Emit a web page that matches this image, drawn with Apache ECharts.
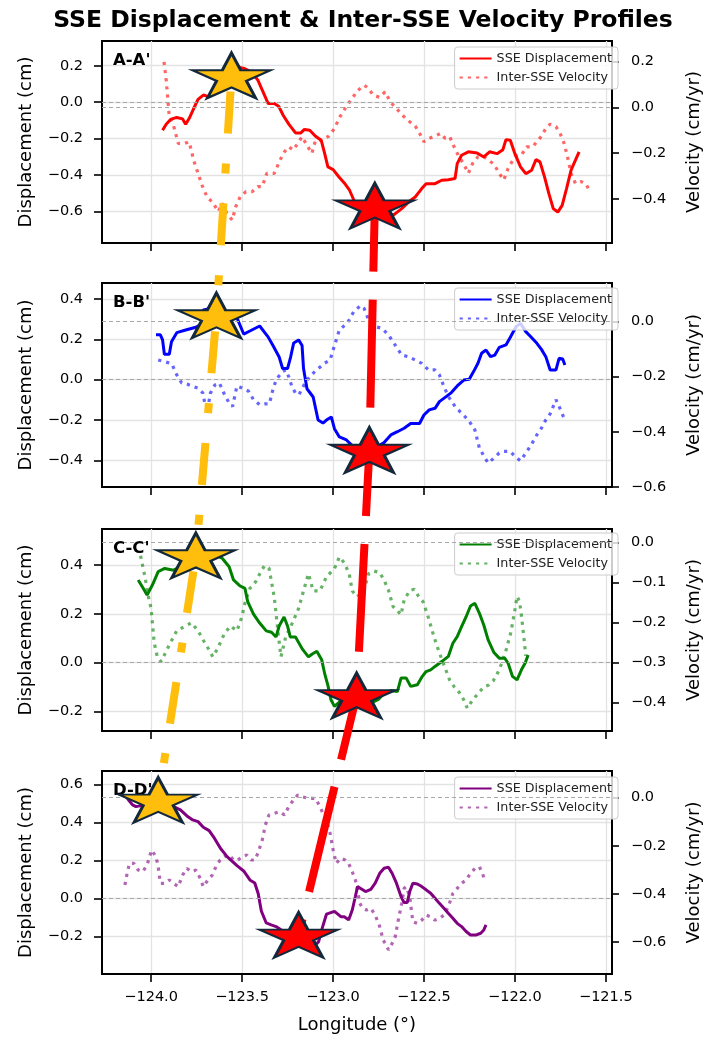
<!DOCTYPE html>
<html><head><meta charset="utf-8">
<script src="https://cdn.jsdelivr.net/npm/echarts@6/dist/echarts.min.js"></script>
<style>html,body{margin:0;padding:0;background:#fff}#c{width:711px;height:1038px}</style>
</head><body><div id="c"></div>
<script>
// ---------------- DATA ----------------
const chartTitle = 'SSE Displacement & Inter-SSE Velocity Profiles';
const panelLabels = ["A-A'", "B-B'", "C-C'", "D-D'"];
const panelKeys = ['A', 'B', 'C', 'D'];
const dispName = 'SSE Displacement';
const velName = 'Inter-SSE Velocity';
const xLabel = 'Longitude (°)';
const leftLabel = 'Displacement (cm)';
const rightLabel = 'Velocity (cm/yr)';

const xTicks = [-124.0, -123.5, -123.0, -122.5, -122.0, -121.5];
const xRange = [-124.27, -121.466];

const leftRangeA = [-0.774, 0.336], rightRangeA = [-0.592, 0.290];
const leftRangeB = [-0.532, 0.479], rightRangeB = [-0.600, 0.139];
const leftRangeC = [-0.281, 0.548], rightRangeC = [-0.472, 0.034];
const leftRangeD = [-0.396, 0.670], rightRangeD = [-0.733, 0.111];

const leftTicksA = [-0.6, -0.4, -0.2, 0.0, 0.2];
const leftTicksB = [-0.4, -0.2, 0.0, 0.2, 0.4];
const leftTicksC = [-0.2, 0.0, 0.2, 0.4];
const leftTicksD = [-0.2, 0.0, 0.2, 0.4, 0.6];
const rightTicksA = [-0.4, -0.2, 0.0, 0.2];
const rightTicksB = [-0.6, -0.4, -0.2, 0.0];
const rightTicksC = [-0.4, -0.3, -0.2, -0.1, 0.0];
const rightTicksD = [-0.6, -0.4, -0.2, 0.0];

const dispA = [[-123.937,-0.154],[-123.917,-0.121],[-123.893,-0.095],[-123.859,-0.084],[-123.827,-0.092],[-123.810,-0.121],[-123.791,-0.090],[-123.766,-0.035],[-123.742,0.015],[-123.713,0.039],[-123.681,0.029],[-123.657,0.057],[-123.620,0.112],[-123.584,0.167],[-123.535,0.195],[-123.486,0.185],[-123.450,0.167],[-123.413,0.121],[-123.381,0.048],[-123.357,-0.007],[-123.323,-0.007],[-123.299,-0.022],[-123.274,-0.072],[-123.243,-0.121],[-123.206,-0.169],[-123.177,-0.169],[-123.157,-0.150],[-123.128,-0.154],[-123.096,-0.187],[-123.065,-0.209],[-123.048,-0.273],[-123.028,-0.356],[-122.999,-0.371],[-122.967,-0.411],[-122.938,-0.444],[-122.909,-0.484],[-122.885,-0.539],[-122.853,-0.573],[-122.792,-0.585],[-122.719,-0.595],[-122.670,-0.622],[-122.622,-0.585],[-122.585,-0.549],[-122.548,-0.521],[-122.512,-0.475],[-122.488,-0.448],[-122.439,-0.448],[-122.402,-0.429],[-122.366,-0.426],[-122.329,-0.420],[-122.317,-0.338],[-122.293,-0.292],[-122.256,-0.273],[-122.208,-0.279],[-122.171,-0.301],[-122.139,-0.273],[-122.098,-0.283],[-122.066,-0.261],[-122.049,-0.206],[-122.025,-0.209],[-122.000,-0.283],[-121.969,-0.356],[-121.940,-0.393],[-121.908,-0.374],[-121.884,-0.316],[-121.862,-0.328],[-121.837,-0.411],[-121.813,-0.503],[-121.789,-0.585],[-121.764,-0.604],[-121.740,-0.567],[-121.716,-0.475],[-121.691,-0.374],[-121.667,-0.319],[-121.647,-0.273]];
const velA = [[-123.929,0.199],[-123.917,0.119],[-123.900,-0.041],[-123.876,-0.081],[-123.851,-0.157],[-123.815,-0.157],[-123.791,-0.150],[-123.766,-0.230],[-123.742,-0.288],[-123.717,-0.346],[-123.693,-0.390],[-123.657,-0.419],[-123.632,-0.455],[-123.608,-0.419],[-123.584,-0.463],[-123.554,-0.492],[-123.535,-0.434],[-123.510,-0.390],[-123.479,-0.368],[-123.445,-0.368],[-123.413,-0.346],[-123.389,-0.346],[-123.364,-0.288],[-123.323,-0.288],[-123.291,-0.230],[-123.267,-0.194],[-123.243,-0.172],[-123.218,-0.186],[-123.194,-0.157],[-123.170,-0.128],[-123.138,-0.172],[-123.116,-0.201],[-123.096,-0.143],[-123.060,-0.143],[-123.023,-0.125],[-122.992,-0.092],[-122.962,-0.041],[-122.933,-0.004],[-122.902,0.032],[-122.865,0.073],[-122.829,0.097],[-122.804,0.083],[-122.780,0.054],[-122.743,0.044],[-122.714,0.068],[-122.690,0.032],[-122.665,0.006],[-122.639,-0.015],[-122.609,-0.041],[-122.578,-0.063],[-122.548,-0.081],[-122.524,-0.113],[-122.500,-0.150],[-122.471,-0.135],[-122.439,-0.125],[-122.407,-0.113],[-122.383,-0.135],[-122.358,-0.128],[-122.334,-0.172],[-122.310,-0.212],[-122.281,-0.247],[-122.256,-0.288],[-122.232,-0.244],[-122.203,-0.215],[-122.171,-0.215],[-122.142,-0.233],[-122.115,-0.247],[-122.086,-0.288],[-122.061,-0.317],[-122.037,-0.266],[-122.000,-0.215],[-121.964,-0.208],[-121.935,-0.172],[-121.903,-0.172],[-121.879,-0.150],[-121.854,-0.125],[-121.830,-0.092],[-121.806,-0.073],[-121.774,-0.084],[-121.750,-0.116],[-121.728,-0.160],[-121.711,-0.215],[-121.691,-0.288],[-121.667,-0.332],[-121.635,-0.324],[-121.611,-0.332],[-121.586,-0.368]];

const dispB = [[-123.973,0.222],[-123.949,0.222],[-123.937,0.197],[-123.927,0.126],[-123.900,0.126],[-123.888,0.188],[-123.859,0.233],[-123.810,0.246],[-123.754,0.260],[-123.722,0.276],[-123.713,0.345],[-123.679,0.352],[-123.657,0.329],[-123.635,0.281],[-123.591,0.326],[-123.537,0.326],[-123.491,0.226],[-123.457,0.241],[-123.403,0.266],[-123.357,0.212],[-123.330,0.169],[-123.296,0.112],[-123.277,0.055],[-123.250,0.055],[-123.233,0.112],[-123.216,0.182],[-123.189,0.197],[-123.170,0.169],[-123.162,0.055],[-123.143,-0.045],[-123.109,-0.086],[-123.082,-0.200],[-123.055,-0.215],[-123.036,-0.200],[-123.009,-0.185],[-122.992,-0.243],[-122.965,-0.284],[-122.926,-0.299],[-122.889,-0.332],[-122.853,-0.352],[-122.804,-0.345],[-122.755,-0.332],[-122.719,-0.312],[-122.682,-0.274],[-122.646,-0.258],[-122.609,-0.241],[-122.573,-0.217],[-122.524,-0.217],[-122.500,-0.175],[-122.471,-0.150],[-122.439,-0.142],[-122.415,-0.109],[-122.378,-0.084],[-122.349,-0.064],[-122.317,-0.031],[-122.281,-0.002],[-122.251,0.002],[-122.227,0.040],[-122.203,0.081],[-122.183,0.131],[-122.159,0.147],[-122.134,0.114],[-122.110,0.122],[-122.086,0.160],[-122.049,0.172],[-122.025,0.210],[-121.993,0.263],[-121.969,0.279],[-121.940,0.238],[-121.910,0.210],[-121.879,0.180],[-121.854,0.150],[-121.830,0.114],[-121.806,0.048],[-121.774,0.048],[-121.757,0.106],[-121.737,0.102],[-121.725,0.073]];
const velB = [[-123.961,-0.140],[-123.925,-0.146],[-123.886,-0.154],[-123.859,-0.194],[-123.832,-0.223],[-123.803,-0.227],[-123.778,-0.234],[-123.742,-0.242],[-123.715,-0.260],[-123.705,-0.296],[-123.688,-0.314],[-123.674,-0.260],[-123.649,-0.230],[-123.625,-0.223],[-123.596,-0.266],[-123.571,-0.296],[-123.552,-0.308],[-123.528,-0.234],[-123.498,-0.242],[-123.464,-0.253],[-123.437,-0.284],[-123.403,-0.302],[-123.377,-0.299],[-123.350,-0.299],[-123.333,-0.254],[-123.313,-0.212],[-123.277,-0.181],[-123.260,-0.176],[-123.243,-0.201],[-123.226,-0.236],[-123.206,-0.260],[-123.187,-0.266],[-123.170,-0.243],[-123.143,-0.212],[-123.099,-0.181],[-123.045,-0.151],[-123.016,-0.140],[-122.992,-0.088],[-122.965,-0.031],[-122.921,-0.006],[-122.885,0.036],[-122.848,0.057],[-122.829,0.047],[-122.804,0.005],[-122.768,-0.019],[-122.731,-0.025],[-122.695,-0.049],[-122.658,-0.086],[-122.622,-0.122],[-122.585,-0.128],[-122.548,-0.140],[-122.512,-0.152],[-122.475,-0.176],[-122.439,-0.176],[-122.415,-0.194],[-122.390,-0.236],[-122.366,-0.272],[-122.329,-0.308],[-122.293,-0.333],[-122.256,-0.357],[-122.220,-0.393],[-122.195,-0.459],[-122.164,-0.495],[-122.147,-0.513],[-122.122,-0.499],[-122.086,-0.477],[-122.061,-0.471],[-122.025,-0.471],[-122.000,-0.489],[-121.969,-0.505],[-121.940,-0.477],[-121.910,-0.447],[-121.879,-0.411],[-121.854,-0.387],[-121.830,-0.357],[-121.806,-0.335],[-121.789,-0.308],[-121.774,-0.284],[-121.757,-0.308],[-121.740,-0.335],[-121.725,-0.357]];

const dispC = [[-124.071,0.339],[-124.046,0.308],[-124.022,0.277],[-123.993,0.318],[-123.961,0.373],[-123.925,0.386],[-123.876,0.379],[-123.839,0.393],[-123.791,0.386],[-123.742,0.393],[-123.681,0.427],[-123.644,0.441],[-123.608,0.427],[-123.571,0.393],[-123.547,0.339],[-123.510,0.314],[-123.484,0.304],[-123.469,0.250],[-123.437,0.199],[-123.403,0.162],[-123.367,0.130],[-123.338,0.124],[-123.313,0.105],[-123.296,0.150],[-123.269,0.187],[-123.250,0.150],[-123.235,0.105],[-123.206,0.105],[-123.170,0.057],[-123.135,0.023],[-123.116,0.034],[-123.089,0.046],[-123.062,0.011],[-123.045,-0.048],[-123.028,-0.094],[-123.011,-0.153],[-122.992,-0.180],[-122.962,-0.160],[-122.914,-0.153],[-122.865,-0.173],[-122.792,-0.167],[-122.748,-0.150],[-122.719,-0.126],[-122.682,-0.115],[-122.646,-0.119],[-122.626,-0.064],[-122.597,-0.064],[-122.573,-0.098],[-122.536,-0.091],[-122.512,-0.060],[-122.488,-0.037],[-122.463,-0.030],[-122.439,-0.016],[-122.415,-0.003],[-122.390,0.011],[-122.366,0.025],[-122.341,0.079],[-122.317,0.106],[-122.293,0.147],[-122.268,0.188],[-122.244,0.232],[-122.220,0.243],[-122.195,0.202],[-122.171,0.154],[-122.147,0.093],[-122.115,0.041],[-122.086,0.018],[-122.056,0.018],[-122.037,-0.003],[-122.013,-0.057],[-121.988,-0.071],[-121.964,-0.030],[-121.944,-0.003],[-121.927,0.031]];
const velC = [[-124.058,-0.033],[-124.034,-0.085],[-124.015,-0.135],[-124.000,-0.165],[-123.983,-0.251],[-123.966,-0.286],[-123.946,-0.298],[-123.922,-0.277],[-123.903,-0.259],[-123.881,-0.240],[-123.859,-0.221],[-123.812,-0.209],[-123.778,-0.201],[-123.742,-0.221],[-123.705,-0.251],[-123.681,-0.269],[-123.661,-0.286],[-123.635,-0.266],[-123.598,-0.229],[-123.564,-0.209],[-123.528,-0.221],[-123.501,-0.186],[-123.484,-0.151],[-123.457,-0.115],[-123.425,-0.098],[-123.401,-0.077],[-123.377,-0.058],[-123.352,-0.064],[-123.323,-0.136],[-123.303,-0.221],[-123.286,-0.286],[-123.260,-0.236],[-123.223,-0.201],[-123.189,-0.165],[-123.162,-0.121],[-123.135,-0.078],[-123.109,-0.121],[-123.072,-0.121],[-123.036,-0.086],[-122.992,-0.065],[-122.965,-0.036],[-122.938,-0.051],[-122.911,-0.078],[-122.894,-0.121],[-122.868,-0.136],[-122.831,-0.121],[-122.804,-0.078],[-122.777,-0.071],[-122.743,-0.075],[-122.719,-0.094],[-122.695,-0.119],[-122.670,-0.160],[-122.646,-0.170],[-122.626,-0.181],[-122.609,-0.144],[-122.578,-0.120],[-122.553,-0.117],[-122.529,-0.135],[-122.505,-0.148],[-122.480,-0.181],[-122.456,-0.219],[-122.432,-0.254],[-122.407,-0.286],[-122.383,-0.315],[-122.359,-0.344],[-122.334,-0.361],[-122.305,-0.376],[-122.281,-0.394],[-122.261,-0.415],[-122.242,-0.401],[-122.217,-0.386],[-122.193,-0.373],[-122.169,-0.361],[-122.144,-0.357],[-122.120,-0.347],[-122.095,-0.327],[-122.071,-0.301],[-122.047,-0.267],[-122.022,-0.225],[-122.000,-0.169],[-121.988,-0.135],[-121.974,-0.148],[-121.962,-0.190],[-121.949,-0.244],[-121.940,-0.284]];

const dispD = [[-124.144,0.544],[-124.124,0.518],[-124.102,0.492],[-124.083,0.483],[-124.034,0.492],[-123.973,0.501],[-123.912,0.492],[-123.876,0.483],[-123.839,0.466],[-123.803,0.434],[-123.771,0.413],[-123.742,0.404],[-123.713,0.375],[-123.681,0.357],[-123.652,0.317],[-123.618,0.263],[-123.581,0.219],[-123.552,0.194],[-123.528,0.173],[-123.491,0.145],[-123.457,0.098],[-123.430,0.082],[-123.411,0.025],[-123.394,-0.065],[-123.367,-0.128],[-123.340,-0.138],[-123.313,-0.147],[-123.284,-0.165],[-123.243,-0.191],[-123.194,-0.208],[-123.133,-0.217],[-123.096,-0.243],[-123.079,-0.226],[-123.060,-0.158],[-123.036,-0.082],[-122.992,-0.067],[-122.955,-0.096],[-122.938,-0.095],[-122.914,-0.112],[-122.894,-0.060],[-122.877,0.011],[-122.865,0.063],[-122.848,0.053],[-122.821,0.037],[-122.792,0.049],[-122.768,0.081],[-122.743,0.133],[-122.719,0.159],[-122.695,0.165],[-122.675,0.133],[-122.651,0.081],[-122.626,0.011],[-122.609,-0.021],[-122.592,-0.021],[-122.578,0.037],[-122.561,0.081],[-122.536,0.077],[-122.512,0.063],[-122.488,0.046],[-122.463,0.028],[-122.439,0.002],[-122.415,-0.025],[-122.390,-0.051],[-122.366,-0.077],[-122.341,-0.103],[-122.317,-0.130],[-122.293,-0.147],[-122.268,-0.173],[-122.244,-0.191],[-122.212,-0.191],[-122.188,-0.182],[-122.171,-0.165],[-122.159,-0.138]];
const velD = [[-124.144,-0.363],[-124.132,-0.315],[-124.119,-0.273],[-124.095,-0.273],[-124.071,-0.301],[-124.046,-0.308],[-124.022,-0.280],[-123.998,-0.218],[-123.973,-0.245],[-123.961,-0.287],[-123.949,-0.356],[-123.924,-0.356],[-123.900,-0.342],[-123.876,-0.356],[-123.851,-0.370],[-123.827,-0.322],[-123.803,-0.294],[-123.778,-0.308],[-123.754,-0.301],[-123.730,-0.335],[-123.713,-0.370],[-123.688,-0.342],[-123.664,-0.322],[-123.644,-0.287],[-123.620,-0.259],[-123.596,-0.245],[-123.571,-0.238],[-123.547,-0.259],[-123.523,-0.259],[-123.498,-0.245],[-123.474,-0.238],[-123.450,-0.259],[-123.430,-0.259],[-123.413,-0.231],[-123.389,-0.176],[-123.372,-0.114],[-123.352,-0.072],[-123.323,-0.065],[-123.291,-0.058],[-123.267,-0.072],[-123.243,-0.037],[-123.218,-0.010],[-123.194,0.011],[-123.170,0.004],[-123.133,-0.003],[-123.096,-0.003],[-123.072,-0.037],[-123.055,-0.065],[-123.036,-0.093],[-123.016,-0.148],[-122.999,-0.218],[-122.982,-0.273],[-122.958,-0.252],[-122.933,-0.259],[-122.914,-0.273],[-122.894,-0.308],[-122.877,-0.342],[-122.865,-0.384],[-122.853,-0.439],[-122.836,-0.460],[-122.816,-0.467],[-122.792,-0.460],[-122.768,-0.488],[-122.743,-0.536],[-122.724,-0.592],[-122.707,-0.613],[-122.695,-0.633],[-122.675,-0.606],[-122.658,-0.578],[-122.641,-0.509],[-122.622,-0.439],[-122.609,-0.377],[-122.597,-0.370],[-122.578,-0.412],[-122.561,-0.516],[-122.536,-0.523],[-122.512,-0.509],[-122.488,-0.488],[-122.463,-0.495],[-122.439,-0.509],[-122.415,-0.502],[-122.390,-0.488],[-122.366,-0.453],[-122.341,-0.398],[-122.317,-0.377],[-122.293,-0.356],[-122.268,-0.342],[-122.244,-0.315],[-122.220,-0.294],[-122.195,-0.287],[-122.178,-0.315],[-122.164,-0.349]];

// star markers (longitude, displacement) per panel A..D
const yellowStars = [[-123.558, 0.146], [-123.641, 0.318], [-123.754, 0.439], [-123.961, 0.518]];
const redStars = [[-122.770, -0.569], [-122.800, -0.349], [-122.870, -0.135], [-123.189, -0.191]];

// ---------------- STYLE / LAYOUT ----------------
const dispData = [dispA, dispB, dispC, dispD];
const velData = [velA, velB, velC, velD];
const leftRanges = [leftRangeA, leftRangeB, leftRangeC, leftRangeD];
const rightRanges = [rightRangeA, rightRangeB, rightRangeC, rightRangeD];
const leftTicks = [leftTicksA, leftTicksB, leftTicksC, leftTicksD];
const rightTicks = [rightTicksA, rightTicksB, rightTicksC, rightTicksD];
const solidColors = ['#ff0000', '#0000ff', '#008000', '#800080'];
const dotColors = ['rgba(255,0,0,0.6)', 'rgba(0,0,255,0.6)', 'rgba(0,128,0,0.6)', 'rgba(128,0,128,0.6)'];
const gridTops = [41, 283, 529, 771];
const gridHeights = [202, 204, 202, 203];
const legendTops = [47, 288, 533, 777];
const FONT = 'DejaVu Sans';
const starPath = 'path://M0,-100L22.45,-30.9L95.1,-30.9L36.3,11.8L58.8,80.9L0,38.2L-58.8,80.9L-36.3,11.8L-95.1,-30.9L-22.45,-30.9Z';
const fmt = v => (v < 0 ? '\u2212' : '') + Math.abs(v).toFixed(1);

const grids = [], xAxes = [], yAxes = [], series = [], legends = [];
const titles = [{
  text: chartTitle, left: 363, top: 9, textAlign: 'center', padding: 0,
  textStyle: {fontFamily: FONT, fontSize: 23.5, fontWeight: 'bold', color: '#000'}
}];
const zeroLine = {
  silent: true, symbol: 'none', label: {show: false},
  lineStyle: {color: '#a8a8a8', type: [4, 3], width: 1}, data: [{yAxis: 0}]
};
for (let i = 0; i < 4; i++) {
  grids.push({left: 102, width: 521, top: gridTops[i], height: gridHeights[i],
    show: true, borderColor: '#000', borderWidth: 2, backgroundColor: 'transparent'});
  xAxes.push({
    type: 'value', gridIndex: i, min: xRange[0], max: xRange[1],
    axisLine: {show: true, onZero: false, lineStyle: {color: '#000', width: 2}},
    axisTick: {show: true, length: 8, lineStyle: {color: '#000', width: 1.6}, customValues: xTicks},
    axisLabel: {show: i === 3, customValues: xTicks, formatter: fmt, fontFamily: FONT, fontSize: 14.5, color: '#000', margin: 16},
    splitLine: {show: true, lineStyle: {color: '#e3e3e3', width: 1.3}},
    name: i === 3 ? xLabel : '', nameLocation: 'middle', nameGap: 42,
    nameTextStyle: {fontFamily: FONT, fontSize: 18, color: '#000'}
  });
  yAxes.push({
    type: 'value', gridIndex: i, position: 'left', min: leftRanges[i][0], max: leftRanges[i][1],
    axisLine: {show: true, lineStyle: {color: '#000', width: 2}},
    axisTick: {show: true, length: 8, lineStyle: {color: '#000', width: 1.6}, customValues: leftTicks[i]},
    axisLabel: {customValues: leftTicks[i], formatter: fmt, fontFamily: FONT, fontSize: 14.5, color: '#000', margin: 19},
    splitLine: {show: true, lineStyle: {color: '#e3e3e3', width: 1.3}},
    name: leftLabel, nameLocation: 'middle', nameGap: 67,
    nameTextStyle: {fontFamily: FONT, fontSize: 18, color: '#000'}
  });
  yAxes.push({
    type: 'value', gridIndex: i, position: 'right', min: rightRanges[i][0], max: rightRanges[i][1],
    axisLine: {show: true, lineStyle: {color: '#000', width: 2}},
    axisTick: {show: true, length: 7, lineStyle: {color: '#000', width: 1.6}, customValues: rightTicks[i]},
    axisLabel: {customValues: rightTicks[i], formatter: fmt, fontFamily: FONT, fontSize: 14.5, color: '#000', margin: 19},
    splitLine: {show: false},
    name: rightLabel, nameLocation: 'middle', nameGap: 73,
    nameTextStyle: {fontFamily: FONT, fontSize: 18, color: '#000'}
  });
  const key = panelKeys[i];
  series.push({
    name: key + '|' + dispName, type: 'line', xAxisIndex: i, yAxisIndex: 2 * i,
    data: dispData[i], showSymbol: false, symbol: 'none', z: 3,
    lineStyle: {color: solidColors[i], width: 3}, itemStyle: {color: solidColors[i]},
    markLine: zeroLine
  });
  series.push({
    name: key + '|' + velName, type: 'line', xAxisIndex: i, yAxisIndex: 2 * i + 1,
    data: velData[i], showSymbol: false, symbol: 'none', z: 4,
    lineStyle: {color: dotColors[i], width: 3.2, type: [3.2, 5], cap: 'butt'}, itemStyle: {color: dotColors[i]},
    markLine: zeroLine
  });
  series.push({
    name: 'stars' + key, type: 'scatter', xAxisIndex: i, yAxisIndex: 2 * i,
    symbol: starPath, symbolSize: [78, 45], z: 20, silent: true,
    itemStyle: {borderColor: '#13283b', borderWidth: 2.5, opacity: 1},
    data: [
      {value: yellowStars[i], itemStyle: {color: '#FFBE0B'}},
      {value: redStars[i], itemStyle: {color: '#FF0000'}}
    ]
  });
  legends.push({
    data: [key + '|' + dispName, key + '|' + velName],
    right: 93, top: legendTops[i], orient: 'vertical',
    itemWidth: 32, itemHeight: 13, itemGap: 6, padding: [5, 6, 5, 4],
    backgroundColor: 'rgba(255,255,255,0.8)', borderColor: '#cccccc', borderWidth: 1, borderRadius: 3,
    itemStyle: {opacity: 0},
    textStyle: {fontFamily: FONT, fontSize: 12.7, color: '#222'},
    formatter: n => n.split('|')[1], selectedMode: false
  });
  titles.push({
    text: panelLabels[i], left: 113, top: gridTops[i] + 11, padding: 0,
    textStyle: {fontFamily: FONT, fontSize: 16.5, fontWeight: 'bold', color: '#000'}
  });
}

const chart = echarts.init(document.getElementById('c'));
chart.setOption({
  animation: false,
  backgroundColor: '#fff',
  textStyle: {fontFamily: FONT},
  title: titles, grid: grids, xAxis: xAxes, yAxis: yAxes, legend: legends, series: series
});

// connecting lines through star markers (pixel positions from the axes)
function px(i, p) { return chart.convertToPixel({xAxisIndex: i, yAxisIndex: 2 * i}, p); }
const graphics = [];
for (let i = 0; i < 3; i++) {
  graphics.push({
    type: 'polyline', z: 15, silent: true,
    shape: {points: [px(i, yellowStars[i]), px(i + 1, yellowStars[i + 1])]},
    style: {stroke: '#FFBE0B', lineWidth: 8, lineDash: [42, 30, 10, 30], lineDashOffset: 96, fill: null, lineCap: 'butt'}
  });
  graphics.push({
    type: 'polyline', z: 15, silent: true,
    shape: {points: [px(i, redStars[i]), px(i + 1, redStars[i + 1])]},
    style: {stroke: '#FF0000', lineWidth: 8, lineDash: [108, 28], lineDashOffset: 42, fill: null, lineCap: 'butt'}
  });
}
chart.setOption({graphic: graphics});
</script>
</body></html>
